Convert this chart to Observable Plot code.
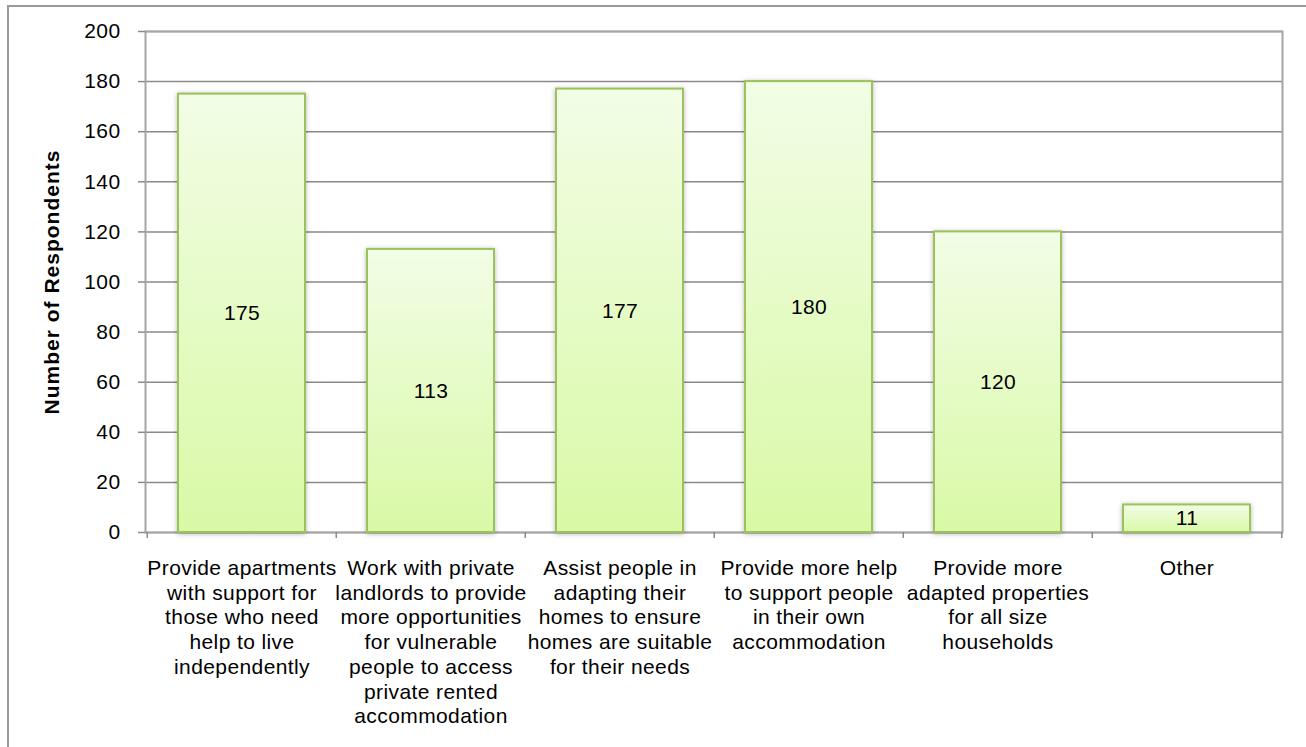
<!DOCTYPE html>
<html>
<head>
<meta charset="utf-8">
<script src="https://cdn.jsdelivr.net/npm/d3@7"></script>
<script src="https://cdn.jsdelivr.net/npm/@observablehq/plot@0.6"></script>
<style>
  html, body { margin: 0; padding: 0; background: #fff; overflow: hidden; }
  #wrap { position: relative; width: 1306px; height: 747px; }
  #outer { position: absolute; left: 7px; top: 5px; width: 1400px; height: 800px;
           border-left: 2px solid #9a9a9a; border-top: 2px solid #9a9a9a; }
  #chart { position: absolute; left: 0; top: 0; }
  #chart svg text { letter-spacing: 0.4px; }
  #chart svg .ylabel text { letter-spacing: 1px; }
  #chart svg .bars rect { filter: drop-shadow(0px 1px 2.5px rgba(0,0,0,0.28)); }
</style>
</head>
<body>
<div id="wrap"><div id="outer"></div><div id="chart"></div></div>
<script>
const categories = [
  "Provide apartments\nwith support for\nthose who need\nhelp to live\nindependently",
  "Work with private\nlandlords to provide\nmore opportunities\nfor vulnerable\npeople to access\nprivate rented\naccommodation",
  "Assist people in\nadapting their\nhomes to ensure\nhomes are suitable\nfor their needs",
  "Provide more help\nto support people\nin their own\naccommodation",
  "Provide more\nadapted properties\nfor all size\nhouseholds",
  "Other"
];
const values = [175, 113, 177, 180, 120, 11];
const yTicks = [0, 20, 40, 60, 80, 100, 120, 140, 160, 180, 200];
const yLabel = "Number of Respondents";

const data = categories.map((c, i) => ({cat: c, value: values[i]}));

const W = 1306, H = 747, ML = 145, MR = 24, MT = 31, MB = 215;
const step = (W - ML - MR) / categories.length;

const chart = Plot.plot({
  width: W, height: H,
  marginLeft: ML, marginRight: MR, marginTop: MT, marginBottom: MB,
  style: {fontFamily: "'Liberation Sans', Arial, sans-serif", fontSize: "21px", color: "#000", background: "transparent"},
  x: {domain: categories, paddingInner: 0.33, paddingOuter: 0.165, label: null},
  y: {domain: [0, 200], label: null},
  marks: [
    Plot.gridY(yTicks, {stroke: "#8a8a8a", strokeOpacity: 1, strokeWidth: 1.5}),
    Plot.frame({stroke: "#a5a5a5", strokeWidth: 2}),
    Plot.barY(data, {x: "cat", y: "value", fill: "url(#barGrad)", stroke: "#9cc35a", strokeWidth: 2, className: "bars"}),
    Plot.text(data, {x: "cat", y: d => d.value / 2, text: d => String(d.value), fontSize: 21, fill: "#000"}),
    Plot.axisY(yTicks, {tickSize: 7, tickPadding: 18, stroke: "#8a8a8a", strokeWidth: 1.5, fontSize: 21, label: null}),
    Plot.axisX({tickSize: 0, tickPadding: 25, lineHeight: 1.176, fontSize: 21, label: null}),
    Plot.axisX({text: null, tickSize: 6, dx: -step / 2, stroke: "#8a8a8a", strokeWidth: 1.5, label: null}),
    Plot.axisX([categories[categories.length - 1]], {text: null, tickSize: 6, dx: step / 2, stroke: "#8a8a8a", strokeWidth: 1.5, label: null}),
    Plot.text([yLabel], {frameAnchor: "left", textAnchor: "middle", rotate: -90, dx: -(ML - 52), fontWeight: "bold", fontSize: 21, fill: "#000", className: "ylabel"})
  ]
});

const svgNS = "http://www.w3.org/2000/svg";
const defs = document.createElementNS(svgNS, "defs");
defs.innerHTML = '<linearGradient id="barGrad" x1="0" y1="0" x2="0" y2="1">' +
  '<stop offset="0" stop-color="#f2fde6"/><stop offset="1" stop-color="#d9f9a6"/></linearGradient>';
chart.insertBefore(defs, chart.firstChild);
document.getElementById("chart").appendChild(chart);
</script>
</body>
</html>
